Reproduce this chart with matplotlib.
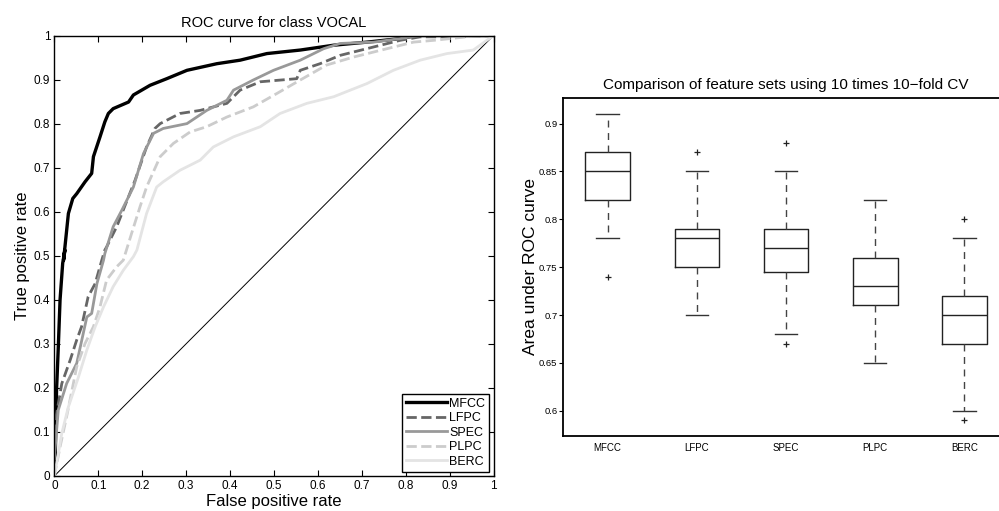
import matplotlib
matplotlib.use("Agg")
import matplotlib.pyplot as plt
from matplotlib.ticker import FormatStrFormatter

plt.rcParams['font.family'] = ['Liberation Sans', 'DejaVu Sans']

# ROC curves (false positive rate, true positive rate)
mfcc_fpr = [0, 0.002, 0.005, 0.009, 0.013, 0.019, 0.024, 0.021, 0.032, 0.042, 0.051, 0.07, 0.085,
            0.089, 0.104, 0.115, 0.123, 0.134, 0.169, 0.18, 0.218, 0.256, 0.302, 0.37, 0.423,
            0.484, 0.56, 0.636, 0.712, 0.787, 0.826, 1.0]
mfcc_tpr = [0.03, 0.044, 0.195, 0.293, 0.40, 0.483, 0.513, 0.49, 0.596, 0.63, 0.641, 0.668, 0.687,
            0.725, 0.77, 0.804, 0.823, 0.834, 0.849, 0.865, 0.887, 0.902, 0.921, 0.936, 0.944,
            0.959, 0.967, 0.978, 0.985, 0.993, 1.0, 1.0]

lfpc_fpr = [0, 0.004, 0.017, 0.036, 0.051, 0.062, 0.077, 0.093, 0.108, 0.115, 0.119, 0.142, 0.157,
            0.184, 0.21, 0.229, 0.241, 0.286, 0.332, 0.393, 0.423, 0.469, 0.552, 0.56, 0.605,
            0.651, 0.727, 0.787, 0.833, 0.9, 1.0]
lfpc_tpr = [0.06, 0.135, 0.21, 0.263, 0.309, 0.339, 0.407, 0.437, 0.49, 0.513, 0.52, 0.566, 0.604,
            0.672, 0.747, 0.789, 0.80, 0.823, 0.83, 0.846, 0.876, 0.895, 0.902, 0.921, 0.936,
            0.955, 0.974, 0.989, 0.997, 0.997, 1.0]

spec_fpr = [0, 0.009, 0.028, 0.051, 0.074, 0.085, 0.097, 0.112, 0.115, 0.134, 0.154, 0.18, 0.203,
            0.226, 0.248, 0.302, 0.347, 0.393, 0.408, 0.453, 0.499, 0.56, 0.613, 0.651, 0.727,
            0.787, 0.833, 1.0]
spec_tpr = [0.04, 0.15, 0.21, 0.256, 0.361, 0.369, 0.437, 0.49, 0.505, 0.566, 0.604, 0.656, 0.732,
            0.778, 0.789, 0.80, 0.83, 0.853, 0.876, 0.899, 0.921, 0.944, 0.97, 0.982, 0.985,
            0.993, 1.0, 1.0]

plpc_fpr = [0, 0.013, 0.028, 0.051, 0.07, 0.089, 0.104, 0.119, 0.142, 0.157, 0.176, 0.195, 0.21,
            0.241, 0.271, 0.309, 0.347, 0.393, 0.453, 0.506, 0.56, 0.62, 0.681, 0.757, 0.818,
            0.863, 0.939, 1.0]
plpc_tpr = [0, 0.066, 0.135, 0.248, 0.301, 0.339, 0.384, 0.445, 0.475, 0.49, 0.551, 0.611, 0.656,
            0.725, 0.755, 0.781, 0.793, 0.815, 0.838, 0.868, 0.899, 0.933, 0.951, 0.97, 0.985,
            0.989, 0.997, 1.0]

berc_fpr = [0, 0.017, 0.032, 0.055, 0.074, 0.093, 0.112, 0.134, 0.157, 0.18, 0.188, 0.21, 0.233,
            0.248, 0.286, 0.332, 0.362, 0.408, 0.469, 0.514, 0.575, 0.636, 0.712, 0.772, 0.833,
            0.894, 0.954, 1.0]
berc_tpr = [0, 0.097, 0.157, 0.225, 0.286, 0.339, 0.384, 0.43, 0.467, 0.498, 0.513, 0.596, 0.656,
            0.668, 0.694, 0.717, 0.747, 0.77, 0.793, 0.823, 0.846, 0.861, 0.891, 0.921, 0.944,
            0.959, 0.967, 1.0]

# AUC box statistics over 10x10-fold CV
features = ['MFCC', 'LFPC', 'SPEC', 'PLPC', 'BERC']
whisker_lo = [0.78, 0.70, 0.68, 0.65, 0.60]
q1 = [0.82, 0.75, 0.745, 0.71, 0.67]
median = [0.85, 0.78, 0.77, 0.73, 0.70]
q3 = [0.87, 0.79, 0.79, 0.76, 0.72]
whisker_hi = [0.91, 0.85, 0.85, 0.82, 0.78]
outliers = [[0.74], [0.87], [0.88, 0.67], [], [0.80, 0.59]]

fig = plt.figure(figsize=(9.99, 5.11), dpi=100)

# left: ROC curves
ax1 = fig.add_axes([0.0544, 0.0685, 0.4396, 0.862])
ax1.plot([0, 1], [0, 1], color='black', lw=0.7)
curves = [
    (mfcc_fpr, mfcc_tpr, 'MFCC', 'black', '-', 2.4),
    (lfpc_fpr, lfpc_tpr, 'LFPC', '#666666', '--', 2.0),
    (spec_fpr, spec_tpr, 'SPEC', '#999999', '-', 2.0),
    (plpc_fpr, plpc_tpr, 'PLPC', '#cccccc', '--', 2.0),
    (berc_fpr, berc_tpr, 'BERC', '#e4e4e4', '-', 2.0),
]
handles = []
for fpr, tpr, name, col, ls, lw in curves:
    h, = ax1.plot(fpr, tpr, color=col, ls=ls, lw=lw, label=name)
    handles.append(h)
ax1.set_xlim(0, 1)
ax1.set_ylim(0, 1)
ticks = [i / 10 for i in range(11)]
ax1.set_xticks(ticks)
ax1.set_yticks(ticks)
ax1.xaxis.set_major_formatter(FormatStrFormatter('%g'))
ax1.yaxis.set_major_formatter(FormatStrFormatter('%g'))
ax1.tick_params(direction='in', top=True, right=True, length=4, width=0.8, labelsize=8.5, pad=3)
for s in ax1.spines.values():
    s.set_linewidth(1.0)
ax1.set_title('ROC curve for class VOCAL', fontsize=10.5, pad=6)
ax1.set_xlabel('False positive rate', fontsize=12, labelpad=1)
ax1.set_ylabel('True positive rate', fontsize=12, labelpad=3)
leg = ax1.legend(handles=handles, loc='lower right', fontsize=9, frameon=True, fancybox=False,
                 edgecolor='black', framealpha=1, handlelength=3.3, handletextpad=0.2,
                 labelspacing=0.2, borderpad=0.3, borderaxespad=0.35)
leg.get_frame().set_linewidth(1.0)

# right: box plot of AUC per feature set
ax2 = fig.add_axes([0.5636, 0.1474, 0.4464, 0.6614])
stats = []
for i, name in enumerate(features):
    stats.append({'label': name, 'whislo': whisker_lo[i], 'q1': q1[i], 'med': median[i],
                  'q3': q3[i], 'whishi': whisker_hi[i], 'fliers': outliers[i]})
ax2.bxp(stats, widths=0.5,
        boxprops=dict(color='#222222', lw=1.0),
        medianprops=dict(color='#222222', lw=1.0),
        whiskerprops=dict(color='#444444', lw=1.0, ls=(0, (5, 4))),
        capprops=dict(color='#333333', lw=1.0),
        flierprops=dict(marker='+', markeredgecolor='#222222', markersize=5, markeredgewidth=0.9))
ax2.set_xlim(0.5, 5.5)
ax2.set_ylim(0.574, 0.927)
ax2.set_yticks([0.6, 0.65, 0.7, 0.75, 0.8, 0.85, 0.9])
ax2.yaxis.set_major_formatter(FormatStrFormatter('%g'))
ax2.tick_params(axis='y', direction='out', length=3, width=0.8, labelsize=6.8, pad=1)
ax2.tick_params(axis='x', length=0, labelsize=7, pad=5)
for s in ax2.spines.values():
    s.set_linewidth(1.3)
ax2.set_title('Comparison of feature sets using 10 times 10\u2212fold CV', fontsize=11, pad=6)
ax2.set_ylabel('Area under ROC curve', fontsize=12.5, labelpad=1)

fig.savefig('out.png', dpi=100)
